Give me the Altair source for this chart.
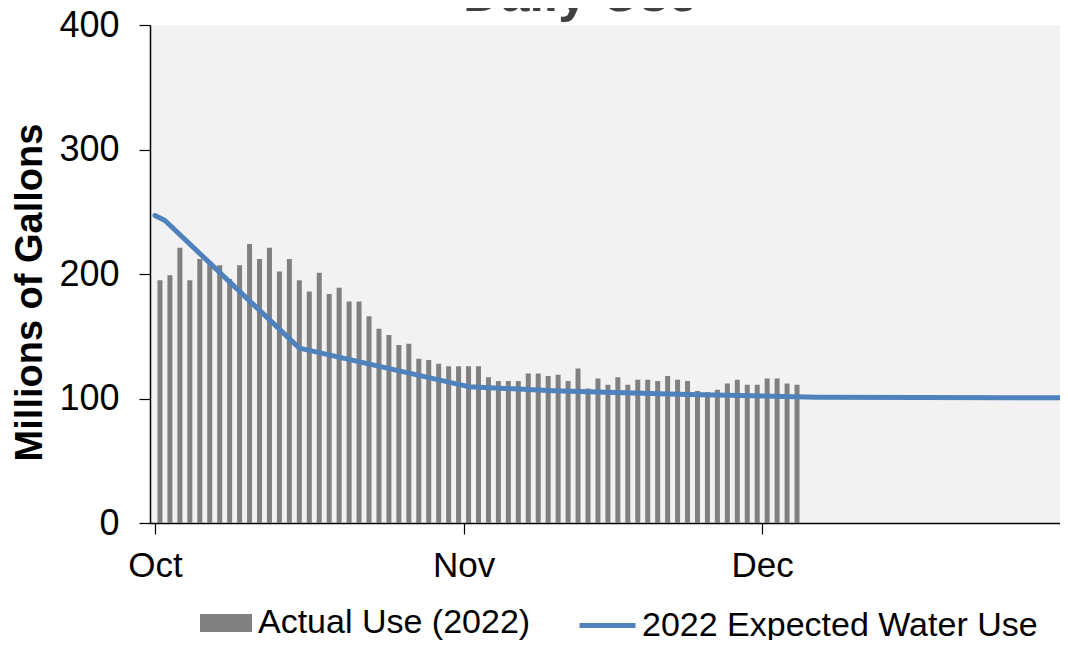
import altair as alt
import pandas as pd

# Daily actual use, Oct 1 .. Dec 4, 2022 (millions of gallons)
actual_use = [195, 199, 221, 195, 212, 208, 207, 196, 207, 224,
              212, 221, 202, 212, 195, 186, 201, 184, 189, 178,
              178, 166, 156, 151, 143, 144, 132, 131, 128, 126,
              126, 126, 126, 117, 114, 114, 114, 120, 120, 118,
              119, 114, 124, 108, 116, 111, 117, 111, 115, 115,
              114, 118, 115, 114, 106, 105, 107, 112, 115, 111,
              111, 116, 116, 112, 111]
actual_first_day = "2022-10-01T12:00:00"

# Expected water use curve
expected_dates = ["2022-10-01T00:00:00Z", "2022-10-02T00:00:00Z",
                  "2022-10-15T12:00:00Z", "2022-11-01T12:00:00Z",
                  "2022-11-10T00:00:00Z", "2022-11-22T12:00:00Z",
                  "2022-12-06T12:00:00Z", "2023-01-01T00:00:00Z"]
expected_use = [247, 243, 140.5, 109.5, 106.2, 103.4, 101, 100.5]

chart_title = ["Daily Use"]
y_ticks = [0, 100, 200, 300, 400]
month_ticks = [10, 11, 12]

bar_dates = pd.date_range(actual_first_day, periods=len(actual_use), freq="D")
bars_df = pd.DataFrame({
    "date": bar_dates.strftime("%Y-%m-%dT%H:%M:%SZ"),
    "value": actual_use,
    "series": "Actual Use (2022)",
})
line_df = pd.DataFrame({
    "date": expected_dates,
    "value": expected_use,
    "series": "2022 Expected Water Use",
})
title_df = pd.DataFrame({"label": chart_title})

FONT = "Liberation Sans"

x_scale = alt.Scale(
    type="utc",
    domain=[alt.DateTime(year=2022, month=10, date=1, utc=True),
            alt.DateTime(year=2022, month=12, date=30, hours=10, utc=True)],
)
x_axis = alt.Axis(
    title=None,
    values=[alt.DateTime(year=2022, month=m, date=1, utc=True) for m in month_ticks],
    labelExpr="utcFormat(datum.value, '%b')",
    labelFontSize=35,
    labelPadding=14,
    tickSize=11,
    labelAlign="center",
)
y_scale = alt.Scale(domain=[0, 400], nice=False)
y_axis = alt.Axis(
    values=y_ticks,
    title="Millions of Gallons",
    titleFontSize=38,
    titleFontWeight="bold",
    titleFont=FONT,
    titleColor="black",
    titleAngle=270,
    titleX=-120,
    titleY=267,
    titleAlign="center",
    titleBaseline="middle",
    labelFontSize=36,
    labelPadding=20,
    tickSize=11,
)

bars = alt.Chart(bars_df).mark_bar(size=5).encode(
    x=alt.X("date:T", scale=x_scale, axis=x_axis),
    y=alt.Y("value:Q", scale=y_scale, axis=y_axis),
    color=alt.Color(
        "series:N",
        scale=alt.Scale(domain=["Actual Use (2022)"], range=["#808080"]),
        legend=alt.Legend(
            orient="none", legendX=50, legendY=572, title=None,
            symbolType="M-1,-0.35H1V0.35H-1Z", symbolSize=2704,
            symbolStrokeWidth=0, symbolOpacity=1,
            labelFontSize=34, labelFont=FONT, labelColor="black",
            labelOffset=6, padding=0, labelLimit=800,
        ),
    ),
)

line = alt.Chart(line_df).mark_line(strokeWidth=5, strokeCap="round",
                                    strokeJoin="round", clip=True).encode(
    x=alt.X("date:T", scale=x_scale, axis=x_axis),
    y=alt.Y("value:Q", scale=y_scale, axis=y_axis),
    color=alt.Color(
        "series:N",
        scale=alt.Scale(domain=["2022 Expected Water Use"], range=["#4F81BD"]),
        legend=alt.Legend(
            orient="none", legendX=427, legendY=570, title=None,
            symbolType="stroke", symbolSize=3136, symbolStrokeWidth=5,
            labelFontSize=34, labelFont=FONT, labelColor="black",
            labelOffset=4, padding=0, labelLimit=800,
        ),
    ),
)

title_text = alt.Chart(title_df).mark_text(
    font=FONT, fontSize=52, fontWeight="bold", color="#404040",
    align="center", baseline="alphabetic",
).encode(
    text="label:N",
    x=alt.value(430),
    y=alt.value(-14),
)

chart = alt.layer(bars, line, title_text).resolve_scale(color="independent").properties(
    width=910,
    height=498,
    padding={"left": 142, "top": 17, "right": 0, "bottom": 117},
    autosize=alt.AutoSizeParams(type="none"),
).configure_view(
    fill="#F2F2F2", strokeWidth=0
).configure_axis(
    labelFont=FONT, labelColor="black", domainColor="black", domainWidth=1.5,
    tickColor="black", tickWidth=1.2, grid=False,
)

chart.save("out.html", embed_options={"renderer": "svg", "actions": False})
